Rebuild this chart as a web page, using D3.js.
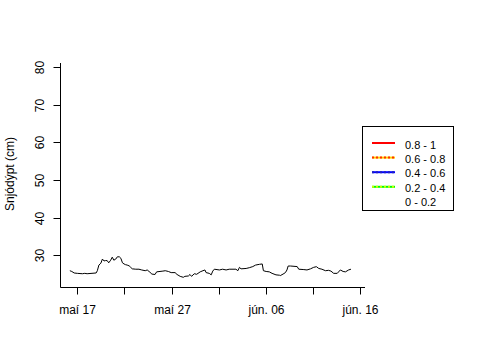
<!DOCTYPE html>
<html><head><meta charset="utf-8">
<script src="https://cdn.jsdelivr.net/npm/d3@7"></script>
<style>body{margin:0;background:#fff} text{font-family:"Liberation Sans",Arial,sans-serif;fill:#000}</style>
</head><body><svg id="c" width="480" height="360"></svg>
<script>
const times = ["2015-05-16 05:00","2015-05-16 10:00","2015-05-16 16:00","2015-05-17 00:00","2015-05-17 13:00","2015-05-17 19:00","2015-05-18 01:00","2015-05-19 00:00","2015-05-19 03:00","2015-05-19 07:00","2015-05-19 12:00","2015-05-19 16:00","2015-05-19 20:00","2015-05-20 00:00","2015-05-20 04:00","2015-05-20 08:00","2015-05-20 13:00","2015-05-20 17:00","2015-05-20 21:00","2015-05-21 02:00","2015-05-21 06:00","2015-05-21 11:00","2015-05-21 15:00","2015-05-21 19:00","2015-05-21 23:00","2015-05-22 03:00","2015-05-22 07:00","2015-05-22 12:00","2015-05-22 16:00","2015-05-22 20:00","2015-05-23 05:00","2015-05-23 13:00","2015-05-23 20:00","2015-05-24 05:00","2015-05-24 10:00","2015-05-24 17:00","2015-05-24 22:00","2015-05-25 06:00","2015-05-25 10:00","2015-05-26 02:00","2015-05-26 08:00","2015-05-26 16:00","2015-05-26 23:00","2015-05-27 09:00","2015-05-27 14:00","2015-05-27 22:00","2015-05-28 06:00","2015-05-28 10:00","2015-05-28 19:00","2015-05-28 23:00","2015-05-29 03:00","2015-05-29 10:00","2015-05-29 16:00","2015-05-30 01:00","2015-05-30 08:00","2015-05-30 13:00","2015-05-30 16:00","2015-05-31 00:00","2015-05-31 05:00","2015-05-31 09:00","2015-05-31 13:00","2015-06-01 02:00","2015-06-01 10:00","2015-06-01 19:00","2015-06-02 03:00","2015-06-02 20:00","2015-06-03 01:00","2015-06-03 05:00","2015-06-03 09:00","2015-06-03 22:00","2015-06-04 06:00","2015-06-04 15:00","2015-06-04 22:00","2015-06-05 08:00","2015-06-05 15:00","2015-06-05 18:00","2015-06-06 01:00","2015-06-06 09:00","2015-06-06 16:00","2015-06-07 02:00","2015-06-07 11:00","2015-06-07 13:00","2015-06-07 20:00","2015-06-08 02:00","2015-06-08 06:00","2015-06-08 09:00","2015-06-08 15:00","2015-06-09 08:00","2015-06-09 12:00","2015-06-10 01:00","2015-06-10 09:00","2015-06-10 18:00","2015-06-11 02:00","2015-06-11 09:00","2015-06-11 15:00","2015-06-11 23:00","2015-06-12 08:00","2015-06-12 16:00","2015-06-12 22:00","2015-06-13 05:00","2015-06-13 14:00","2015-06-13 22:00","2015-06-14 05:00","2015-06-14 11:00","2015-06-14 19:00","2015-06-15 01:00"];
const depth = [25.9,25.7,25.3,25.2,25.1,25.2,25.1,25.3,25.9,27.4,27.9,29.0,28.5,28.6,28.6,28.0,28.7,29.5,28.7,29.0,29.6,29.6,29.2,28.0,27.7,27.5,27.4,27.2,26.8,26.4,26.3,26.3,26.1,25.9,26.1,25.5,25.0,24.9,25.6,25.8,25.9,25.7,25.4,25.4,24.9,24.4,24.15,24.4,24.5,24.9,24.4,25.1,24.95,25.6,25.9,26.1,25.4,25.2,24.8,25.8,26.3,26.1,26.3,26.1,26.3,26.3,25.9,26.8,26.4,26.5,26.7,27.0,27.4,27.6,27.7,25.9,25.7,25.6,25.2,24.8,24.7,24.6,25.0,25.4,26.1,27.15,27.15,27.0,26.3,26.2,26.1,26.4,26.8,26.97,26.5,26.3,25.9,26.0,25.8,25.2,25.2,26.1,25.7,25.6,26.1,26.3];
const yTicks = [30, 40, 50, 60, 70, 80];
const xTickDates = ["2015-05-17","2015-05-22","2015-05-27","2015-06-01","2015-06-06","2015-06-11","2015-06-16"];
const xTickLabels = ["maí 17","","maí 27","","jún. 06","","jún. 16"];
const legendLabels = ["0.8 - 1","0.6 - 0.8","0.4 - 0.6","0.2 - 0.4","0 - 0.2"];
const legendBase = ["#ff0000","#ffd000","#0000ff","#00ff00",null];
const legendDash = [null,"#ff3000","#2020c0","#c8ff00",null];
const yTitle = "Snjódýpt (cm)";

const parseT = d3.utcParse("%Y-%m-%d %H:%M");
const parseD = d3.utcParse("%Y-%m-%d");
const data = times.map((t,i)=>({t:parseT(t), v:depth[i]}));

const svg = d3.select("#c");
const x = d3.scaleUtc().domain([parseT("2015-05-15 03:55"), parseT("2015-06-16 12:45")]).range([60,365]);
const y = d3.scaleLinear().domain([21.57, 81.14]).range([287,63]);

// L-shaped frame
svg.append("line").attr("x1",60.5).attr("x2",60.5).attr("y1",63).attr("y2",287.5).attr("stroke","#000");
svg.append("line").attr("x1",60.5).attr("x2",365).attr("y1",287.5).attr("y2",287.5).attr("stroke","#000");

// y axis
const ya = d3.axisLeft(y).tickValues(yTicks).tickSize(7).tickFormat(d3.format("d"));
const gy = svg.append("g").attr("transform","translate(60.5,0)").call(ya);
gy.select(".domain").remove();
gy.selectAll("line").attr("stroke","#000");
gy.selectAll(".tick").attr("transform", d => `translate(0,${Math.round(y(d))+0.5})`);
gy.selectAll(".tick text").attr("x",null).attr("dy",null).attr("y",0)
  .attr("font-size",12).attr("text-anchor","middle")
  .attr("transform","translate(-17,0) rotate(-90)");

// x axis
const xa = d3.axisBottom(x).tickValues(xTickDates.map(parseD)).tickSize(7).tickFormat((d,i)=>xTickLabels[i]);
const gx = svg.append("g").attr("transform","translate(0,287.5)").call(xa);
gx.select(".domain").remove();
gx.selectAll(".tick").attr("transform", d => `translate(${Math.round(x(d))+0.5},0)`);
gx.selectAll("line").attr("stroke","#000");
gx.selectAll("text").attr("font-size",12).attr("y",26.5).attr("dy",null);

// data line
svg.append("path").datum(data)
  .attr("d", d3.line().x(d=>x(d.t)).y(d=>y(d.v)))
  .attr("fill","none").attr("stroke","#000").attr("stroke-width",1);

// y title
svg.append("text").attr("transform","translate(14,174) rotate(-90)")
  .attr("text-anchor","middle").attr("font-size",12).text(yTitle);

// legend
svg.append("rect").attr("x",362.5).attr("y",126.5).attr("width",91).attr("height",84)
  .attr("fill","#fff").attr("stroke","#000");
const lg = svg.append("g");
legendLabels.forEach((lab,i)=>{
  const yy = 143 + i*14.6;
  if (legendBase[i]) lg.append("line").attr("x1",372).attr("x2",395).attr("y1",yy).attr("y2",yy)
     .attr("stroke",legendBase[i]).attr("stroke-width",2);
  if (legendDash[i]) lg.append("line").attr("x1",372).attr("x2",395).attr("y1",yy).attr("y2",yy)
     .attr("stroke",legendDash[i]).attr("stroke-width",2).attr("stroke-dasharray","2,2");
  lg.append("text").attr("x",405).attr("y",148.5+i*14.4).attr("font-size",11).text(lab);
});
</script></body></html>
